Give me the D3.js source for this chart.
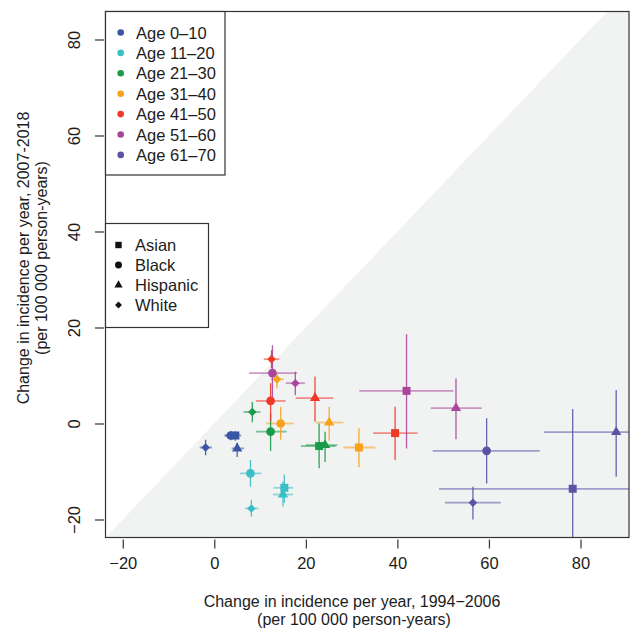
<!DOCTYPE html>
<html>
<head>
<meta charset="utf-8">
<script src="https://cdn.jsdelivr.net/npm/d3@7"></script>
<style>
  html, body { margin: 0; padding: 0; background: #fff; }
  svg { display: block; font-family: "Liberation Sans", Arial, Helvetica, sans-serif; }
</style>
</head>
<body>
<svg id="chart" width="634" height="629"></svg>
<script>
// ---------------- DATA ----------------
const ageGroups = ["Age 0–10", "Age 11–20", "Age 21–30", "Age 31–40", "Age 41–50", "Age 51–60", "Age 61–70"];
const ageColors = ["#3a55a4", "#3cbec6", "#1a9a4a", "#f8a21c", "#ee3a26", "#a8469c", "#5c53a6"];
const ethnicities = ["Asian", "Black", "Hispanic", "White"];
const xTicks = [-20, 0, 20, 40, 60, 80];
const yTicks = [-20, 0, 20, 40, 60, 80];

// one entry per point: age group index, ethnicity index
const ptAge = [0,0,0,0, 1,1,1,1, 2,2,2,2, 3,3,3,3, 4,4,4,4, 5,5,5,5, 6,6,6,6];
const ptEth = [0,1,2,3, 0,1,2,3, 0,1,2,3, 0,1,2,3, 0,1,2,3, 0,1,2,3, 0,1,2,3];
// change 1994–2006 (estimate, lower, upper)
const ptX   = [4.6, 3.6, 5.0, -1.9,  15.3, 7.9, 15.0, 8.1,  22.9, 12.3, 24.2, 8.3,  31.6, 14.5, 25.1, 13.7,  39.5, 12.3, 22.0, 12.5,  42.0, 12.7, 52.8, 17.7,  78.3, 59.5, 87.8, 56.5];
const ptXlo = [2.4, 2.2, 3.8, -3.2,  12.9, 5.6, 12.8, 6.7,  18.9, 9.1, 20.0, 6.4,  28.2, 11.3, 22.2, 12.3,  34.7, 9.1, 17.8, 10.8,  31.7, 7.6, 47.3, 15.6,  49.1, 47.7, 72.0, 50.4];
const ptXhi = [5.9, 5.0, 6.5, -0.5,  17.2, 10.3, 17.2, 9.6,  26.5, 15.8, 26.9, 10.1,  35.2, 17.4, 28.2, 15.2,  44.4, 15.6, 26.0, 14.2,  52.2, 18.1, 58.4, 19.8,  107, 71.1, 103, 62.6];
// change 2007–2018 (estimate, lower, upper)
const ptY   = [-2.5, -2.5, -5.2, -5.0,  -13.4, -10.4, -14.8, -17.7,  -4.7, -1.7, -4.5, 2.4,  -5.0, 0.0, 0.2, 9.2,  -2.0, 4.7, 5.3, 13.4,  6.8, 10.5, 3.2, 8.4,  -13.6, -5.7, -1.8, -16.5];
const ptYlo = [-3.6, -3.5, -7.0, -6.6,  -16.5, -13.2, -17.3, -19.4,  -9.3, -5.7, -8.0, 0.25,  -9.1, -3.4, -3.6, 7.3,  -7.6, 0.5, 0.4, 11.5,  -5.2, 5.5, -3.3, 5.9,  -30, -12.5, -11.1, -20.0];
const ptYhi = [-1.6, -1.6, -4.0, -3.4,  -10.6, -7.6, -12.1, -15.9,  0.0, 2.1, -1.7, 4.5,  -1.0, 3.5, 3.5, 10.8,  3.5, 8.4, 9.8, 15.3,  18.6, 16.3, 9.4, 10.8,  3.0, 1.1, 7.0, -13.2];

const xTitle = ["Change in incidence per year, 1994−2006", "(per 100 000 person-years)"];
const yTitle = ["Change in incidence per year, 2007-2018", "(per 100 000 person-years)"];

// ---------------- LAYOUT ----------------
const svg = d3.select("#chart");
const L = 105.5, R = 629, T = 11.5, B = 537.5;
const x = d3.scaleLinear().domain([-23.77, 90.6]).range([L, R]);
const y = d3.scaleLinear().domain([-23.75, 85.83]).range([B, T]);
const ink = "#1c1c1c";

svg.append("defs").append("clipPath").attr("id", "plotclip")
  .append("rect").attr("x", L).attr("y", T).attr("width", R - L).attr("height", B - T);

// shaded region below y = x
const [x0, x1] = x.domain();
const [y0, y1] = y.domain();
const diagStart = Math.max(x0, y0), diagEnd = Math.min(x1, y1);
const shade = [[diagStart, diagStart], [diagEnd, diagEnd], [x1, diagEnd], [x1, y0], [diagStart, y0]];
svg.append("path")
  .attr("d", d3.line().x(d => x(d[0])).y(d => y(d[1]))(shade) + "Z")
  .attr("fill", "#f1f2f2");

// error bars
const idx = d3.range(ptX.length);
const gErr = svg.append("g").attr("clip-path", "url(#plotclip)");
gErr.selectAll("line.h").data(idx).join("line").attr("class", "h")
  .attr("x1", i => x(ptXlo[i])).attr("x2", i => x(ptXhi[i]))
  .attr("y1", i => y(ptY[i])).attr("y2", i => y(ptY[i]))
  .attr("stroke", i => ageColors[ptAge[i]]).attr("stroke-width", 1.8).attr("stroke-opacity", 0.55);
gErr.selectAll("line.v").data(idx).join("line").attr("class", "v")
  .attr("x1", i => x(ptX[i])).attr("x2", i => x(ptX[i]))
  .attr("y1", i => y(ptYlo[i])).attr("y2", i => y(ptYhi[i]))
  .attr("stroke", i => ageColors[ptAge[i]]).attr("stroke-width", 1.3).attr("stroke-opacity", 0.9);

// symbols
function symbolPath(eth, scale) {
  const s = scale || 1;
  if (eth === 0) return d3.symbol(d3.symbolSquare, 64 * s * s)();
  if (eth === 1) return d3.symbol(d3.symbolCircle, 60 * s * s)();
  if (eth === 2) return d3.symbol(d3.symbolTriangle, 46 * s * s)();
  const r = 4.3 * s;
  return `M0,${-r}L${r},0L0,${r}L${-r},0Z`;
}
svg.append("g").attr("clip-path", "url(#plotclip)")
  .selectAll("path").data(idx).join("path")
  .attr("transform", i => `translate(${x(ptX[i])},${y(ptY[i])})`)
  .attr("d", i => symbolPath(ptEth[i]))
  .attr("fill", i => ageColors[ptAge[i]]);

// plot box
svg.append("rect").attr("x", L).attr("y", T).attr("width", R - L).attr("height", B - T)
  .attr("fill", "none").attr("stroke", "#333").attr("stroke-width", 1.2);

// axes
const xAxis = svg.append("g").attr("transform", `translate(0,${B + 2})`)
  .call(d3.axisBottom(x).tickValues(xTicks).tickSize(9).tickPadding(9).tickFormat(d => d < 0 ? "−" + Math.abs(d) : d));
xAxis.select(".domain").remove();
xAxis.selectAll("line").attr("stroke", "#333").attr("stroke-width", 1.2);
xAxis.selectAll("text").attr("font-size", 16.5).attr("fill", ink).attr("font-family", "Liberation Sans, Arial, sans-serif");

const yAxis = svg.append("g").attr("transform", `translate(${L - 1.5},0)`)
  .call(d3.axisLeft(y).tickValues(yTicks).tickSize(9).tickFormat(d => d < 0 ? "−" + Math.abs(d) : d));
yAxis.select(".domain").remove();
yAxis.selectAll("line").attr("stroke", "#333").attr("stroke-width", 1.2);
yAxis.selectAll("text")
  .attr("x", null).attr("dy", null)
  .attr("text-anchor", "middle")
  .attr("transform", "translate(-24,0) rotate(-90)")
  .attr("y", 0)
  .attr("font-size", 16.5).attr("fill", ink).attr("font-family", "Liberation Sans, Arial, sans-serif");

// axis titles
svg.append("text").attr("x", 352).attr("y", 607).attr("text-anchor", "middle")
  .attr("font-size", 16).attr("fill", ink).text(xTitle[0]);
svg.append("text").attr("x", 354).attr("y", 625).attr("text-anchor", "middle")
  .attr("font-size", 16).attr("fill", ink).text(xTitle[1]);
svg.append("text").attr("transform", "translate(28.5,258) rotate(-90)").attr("text-anchor", "middle")
  .attr("font-size", 16).attr("fill", ink).text(yTitle[0]);
svg.append("text").attr("transform", "translate(46.5,258) rotate(-90)").attr("text-anchor", "middle")
  .attr("font-size", 16).attr("fill", ink).text(yTitle[1]);

// legend 1: age groups
const leg1 = svg.append("g");
leg1.append("rect").attr("x", L).attr("y", T).attr("width", 225 - L).attr("height", 175 - T)
  .attr("fill", "#fff").attr("stroke", "#333").attr("stroke-width", 1.2);
ageGroups.forEach((g, i) => {
  const cy = 32.5 + i * 20.4;
  leg1.append("circle").attr("cx", 120.7).attr("cy", cy).attr("r", 3.3).attr("fill", ageColors[i]);
  leg1.append("text").attr("x", 136).attr("y", cy + 6).attr("font-size", 16.5).attr("fill", ink).text(g);
});

// legend 2: ethnicity
const leg2 = svg.append("g");
leg2.append("rect").attr("x", L).attr("y", 223.5).attr("width", 208.5 - L).attr("height", 327.5 - 223.5)
  .attr("fill", "#fff").attr("stroke", "#333").attr("stroke-width", 1.2);
ethnicities.forEach((e, i) => {
  const cy = 245 + i * 20;
  leg2.append("path").attr("transform", `translate(118.5,${cy})`).attr("d", symbolPath(i, 0.8)).attr("fill", "#111");
  leg2.append("text").attr("x", 135).attr("y", cy + 6).attr("font-size", 16.5).attr("fill", ink).text(e);
});
</script>
</body>
</html>
